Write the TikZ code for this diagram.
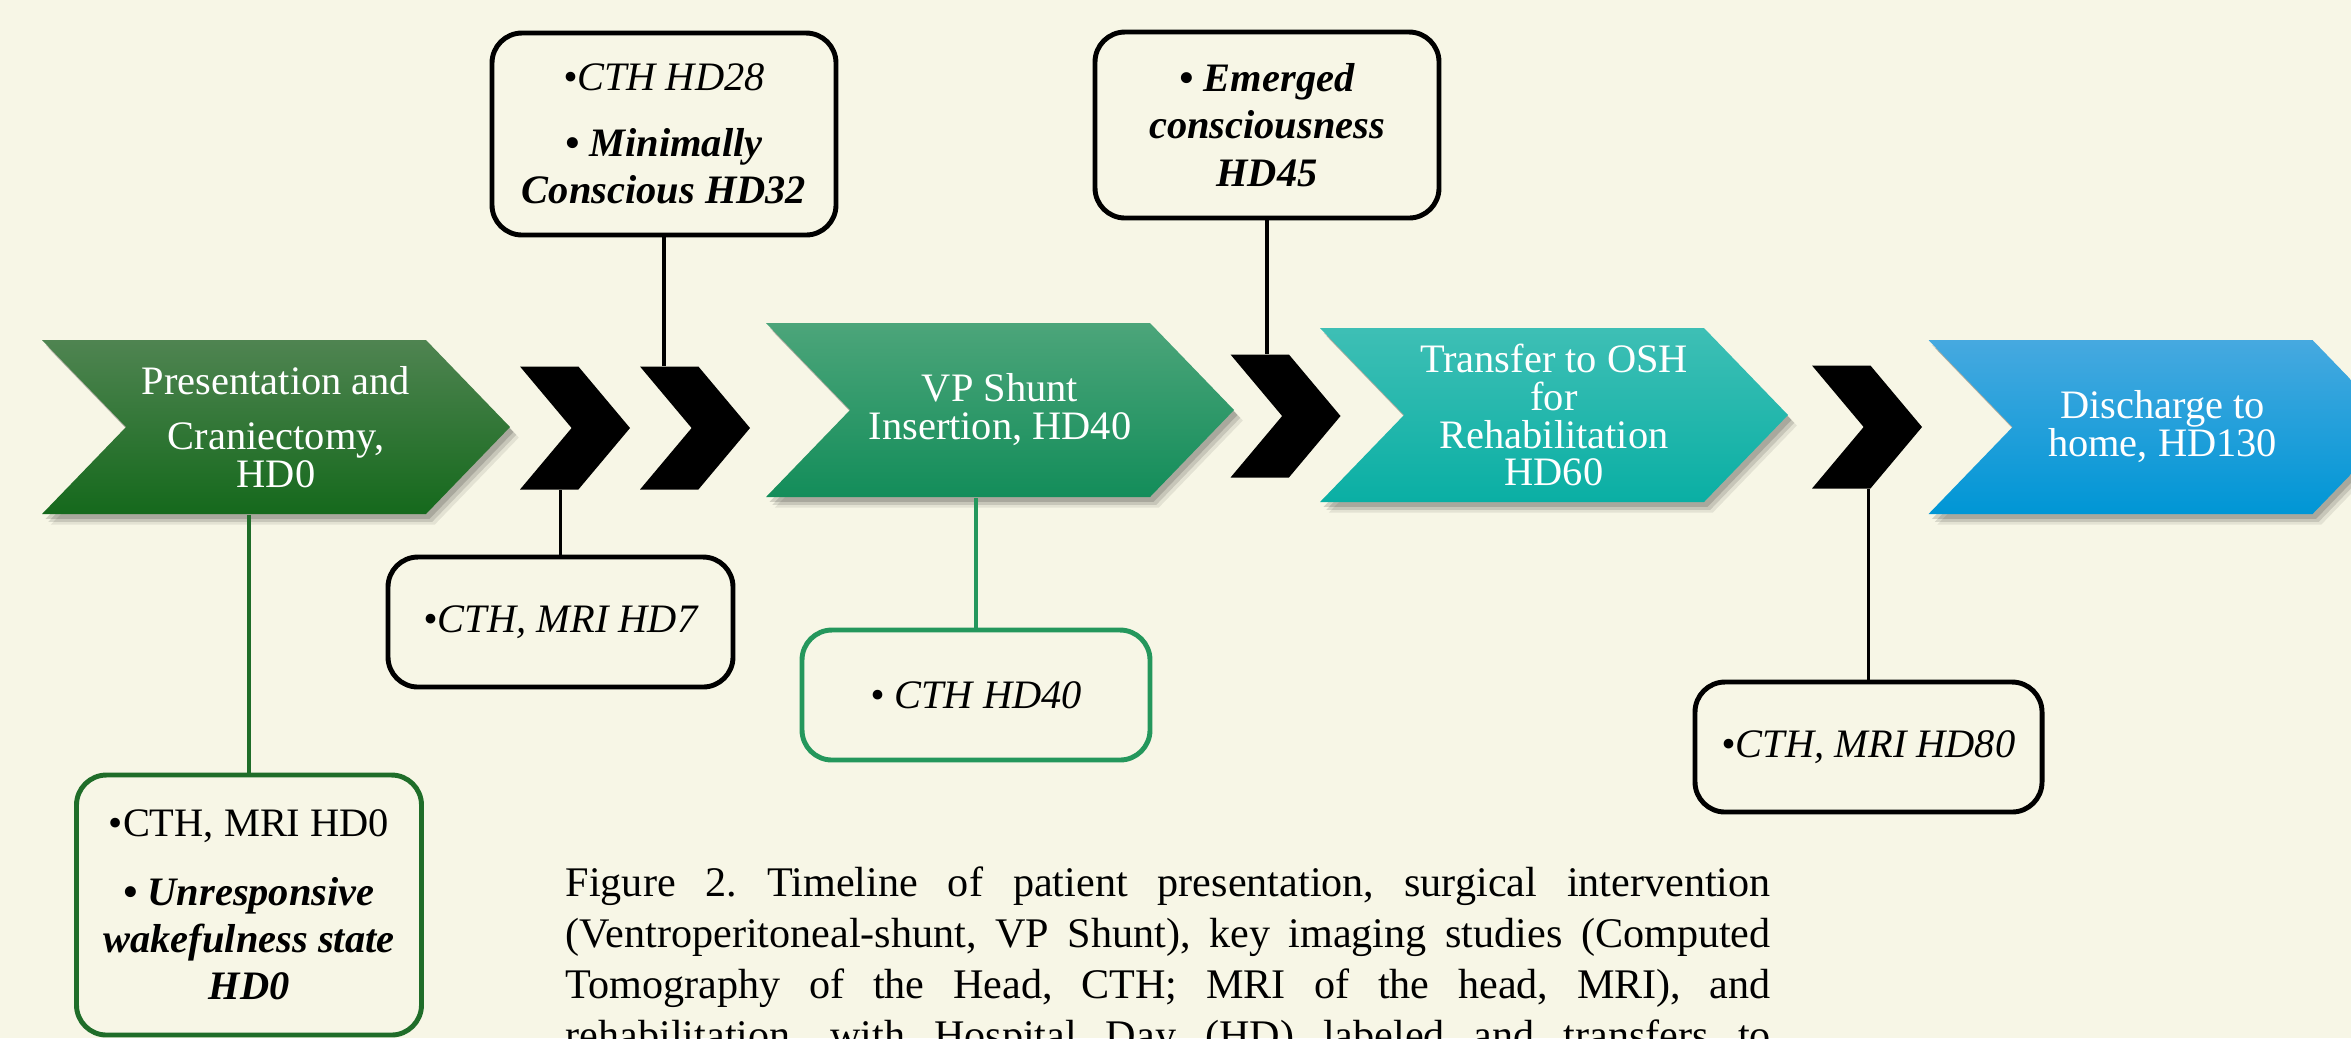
\documentclass[tikz,border=0pt]{standalone}
\usepackage{fontspec}
\setmainfont{Liberation Serif}
\usetikzlibrary{shapes.symbols}
\usetikzlibrary{shadows}
\definecolor{cream}{HTML}{F7F6E6}
\definecolor{presTop}{HTML}{4F8451}
\definecolor{presBot}{HTML}{15691C}
\definecolor{shuntTop}{HTML}{4CA57A}
\definecolor{shuntBot}{HTML}{138D5A}
\definecolor{oshTop}{HTML}{3EBFB5}
\definecolor{oshBot}{HTML}{0AAFA4}
\definecolor{homeTop}{HTML}{46A9E0}
\definecolor{homeBot}{HTML}{0096D5}
\definecolor{stemGreen}{HTML}{24975C}
\definecolor{darkGreen}{HTML}{1F6D29}
\tikzset{
    chevron/.style={signal, signal to=east, signal from=west, signal pointer angle=92,
        minimum width=4.68cm, minimum height=1.74cm, inner sep=0pt, text=white, align=center,
        font=\fontsize{11.5}{10.8}\selectfont,
        general shadow={shadow xshift=2.5pt, shadow yshift=-3pt, opacity=0.08, fill=black},
        general shadow={shadow xshift=1.8pt, shadow yshift=-2.2pt, opacity=0.12, fill=black},
        general shadow={shadow xshift=1pt, shadow yshift=-1.4pt, opacity=0.15, fill=black}},
    blackchev/.style={signal, signal to=east, signal from=west, signal pointer angle=100,
        minimum width=1.10cm, minimum height=1.23cm, inner sep=0pt, fill=black},
    notebox/.style={draw=black, line width=1.4pt, rounded corners=0.3cm, fill=cream,
        align=center, inner sep=0pt, font=\fontsize{11.5}{13.5}\selectfont},
    stem/.style={line width=1.1pt}
}

\begin{document}
\begin{tikzpicture}
    % Globals
    \pgfmathsetmacro{\picW}{23.51}
    \pgfmathsetmacro{\picH}{10.38}
    \useasboundingbox (0,0) rectangle (\picW,-\picH);
    \clip (0,0) rectangle (\picW,-\picH);

    % Background
    \fill[cream] (0,0) rectangle (\picW,-\picH);

    % Timeline chevrons
    \node[chevron, top color=presTop, bottom color=presBot] (chevPres) at (2.76,-4.27)
        {Presentation and\\[5pt] Craniectomy,\\ HD0};
    \node[chevron, top color=shuntTop, bottom color=shuntBot] (chevShunt) at (10.00,-4.10)
        {VP Shunt\\ Insertion, HD40};
    \node[chevron, top color=oshTop, bottom color=oshBot] (chevOSH) at (15.54,-4.15)
        {Transfer to OSH\\ for\\ Rehabilitation\\ HD60};
    \node[chevron, top color=homeTop, bottom color=homeBot] (chevHome) at (21.625,-4.27)
        {Discharge to\\ home, HD130};

    % Black chevrons
    \node[blackchev] (arrA) at (5.75,-4.28) {};
    \node[blackchev] (arrB) at (6.95,-4.28) {};
    \node[blackchev] (arrC) at (12.855,-4.16) {};
    \node[blackchev] (arrD) at (18.67,-4.27) {};

    % Notes above the timeline
    \node[notebox, minimum width=3.44cm, minimum height=2.02cm] (noteMCS) at (6.64,-1.34)
        {{\itshape •CTH HD28}\\[5pt] {\bfseries\itshape • Minimally}\\ {\bfseries\itshape Conscious HD32}};
    \node[notebox, minimum width=3.44cm, minimum height=1.86cm, font=\fontsize{11.5}{13.5}\selectfont\bfseries\itshape] (noteEmerged) at (12.67,-1.25)
        {• Emerged\\ consciousness\\ HD45};

    % Notes below the timeline
    \node[notebox, minimum width=3.45cm, minimum height=1.30cm, font=\fontsize{11.5}{13.5}\selectfont\itshape] (noteHDseven) at (5.605,-6.22)
        {•CTH, MRI HD7};
    \node[notebox, draw=stemGreen, minimum width=3.48cm, minimum height=1.30cm, font=\fontsize{11.5}{13.5}\selectfont\itshape] (noteHDforty) at (9.76,-6.95)
        {• CTH HD40};
    \node[notebox, minimum width=3.47cm, minimum height=1.30cm, font=\fontsize{11.5}{13.5}\selectfont\itshape] (noteHDeighty) at (18.685,-7.47)
        {•CTH, MRI HD80};
    \node[notebox, draw=darkGreen, minimum width=3.45cm, minimum height=2.60cm] (noteHDzero) at (2.49,-9.05)
        {•CTH, MRI HD0\\[6pt] {\bfseries\itshape • Unresponsive}\\ {\bfseries\itshape wakefulness state}\\ {\bfseries\itshape HD0}};

    % Stems
    \draw[stem] (noteMCS.south) -- (noteMCS.south |- arrB.north);
    \draw[stem] (noteEmerged.south) -- (noteEmerged.south |- arrC.north);
    \draw[stem] (noteHDseven.north) -- (noteHDseven.north |- arrA.south);
    \draw[stem, draw=stemGreen] (noteHDforty.north) -- (noteHDforty.north |- chevShunt.south);
    \draw[stem] (noteHDeighty.north) -- (noteHDeighty.north |- arrD.south);
    \draw[stem, draw=darkGreen] (noteHDzero.north) -- (noteHDzero.north |- chevPres.south);

    % Caption
    \node[anchor=north west, text width=12.05cm, align=justify, inner sep=0pt,
        font=\fontsize{12}{14.5}\selectfont\frenchspacing] (caption) at (5.65,-8.66)
        {Figure 2. Timeline of patient presentation, surgical intervention\linebreak
        (Ventroperitoneal-shunt, VP Shunt), key imaging studies (Computed\linebreak
        Tomography of the Head, CTH; MRI of the head, MRI), and\linebreak
        rehabilitation, with Hospital Day (HD) labeled and transfers to\linebreak};
\end{tikzpicture}
\end{document}
